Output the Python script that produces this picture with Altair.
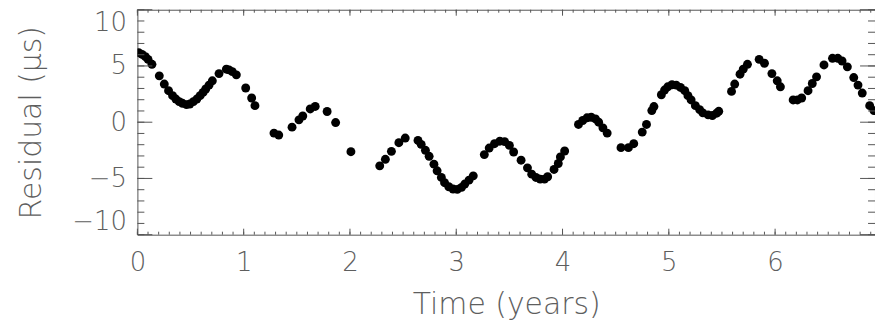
import altair as alt
import pandas as pd

# Observed residuals (time in years, residual in microseconds)
time_years = [
    0.012, 0.044, 0.075, 0.100, 0.137, 0.206, 0.253, 0.293, 0.331, 0.362,
    0.393, 0.424, 0.462, 0.493, 0.527, 0.559, 0.590, 0.618, 0.643, 0.674,
    0.705, 0.768, 0.837, 0.862, 0.893, 0.931, 1.019, 1.075, 1.106,
    1.285, 1.330, 1.455, 1.520, 1.556, 1.626, 1.673, 1.785, 1.865, 2.009,
    2.280, 2.333, 2.390, 2.460, 2.520, 2.640, 2.670, 2.710, 2.745, 2.790,
    2.820, 2.860, 2.890, 2.930, 2.970, 3.010, 3.050, 3.080, 3.120, 3.160,
    3.264, 3.310, 3.360, 3.410, 3.455, 3.500, 3.540, 3.610, 3.670, 3.710,
    3.750, 3.790, 3.830, 3.860, 3.920, 3.960, 3.980, 4.020,
    4.150, 4.190, 4.230, 4.270, 4.310, 4.340, 4.380, 4.420,
    4.550, 4.620, 4.670, 4.750, 4.790, 4.840, 4.860, 4.930, 4.960, 4.990,
    5.030, 5.070, 5.110, 5.150, 5.180, 5.210, 5.250, 5.290, 5.320, 5.370,
    5.410, 5.450, 5.470,
    5.590, 5.620, 5.670, 5.700, 5.740, 5.850, 5.900, 5.970, 6.020, 6.050,
    6.170, 6.210, 6.250, 6.310, 6.350, 6.390, 6.460, 6.540, 6.590, 6.630,
    6.680, 6.740, 6.780, 6.820, 6.890, 6.930,
]
residual_us = [
    6.18, 6.03, 5.83, 5.59, 5.15, 4.12, 3.39, 2.80, 2.36, 2.06,
    1.83, 1.68, 1.56, 1.62, 1.83, 2.06, 2.36, 2.65, 2.95, 3.30,
    3.68, 4.32, 4.71, 4.65, 4.50, 4.21, 3.04, 2.15, 1.47,
    -0.97, -1.14, -0.44, 0.21, 0.55, 1.18, 1.40, 0.95, -0.03, -2.62,
    -3.88, -3.30, -2.59, -1.82, -1.41, -1.62, -1.97, -2.50, -3.03, -3.73,
    -4.32, -4.91, -5.38, -5.74, -5.94, -5.97, -5.79, -5.50, -5.15, -4.77,
    -2.88, -2.30, -1.91, -1.69, -1.73, -2.06, -2.65, -3.38, -4.06, -4.62,
    -4.91, -5.06, -5.06, -4.85, -4.20, -3.67, -3.09, -2.56,
    -0.20, 0.15, 0.39, 0.44, 0.30, 0.00, -0.50, -0.97,
    -2.26, -2.26, -1.91, -0.88, -0.20, 1.03, 1.39, 2.44, 2.86, 3.15,
    3.33, 3.30, 3.09, 2.80, 2.36, 1.98, 1.47, 1.12, 0.83, 0.65,
    0.59, 0.80, 0.97,
    2.74, 3.39, 4.27, 4.71, 5.15, 5.59, 5.24, 4.32, 3.68, 3.15,
    1.98, 1.98, 2.15, 2.80, 3.44, 4.03, 5.09, 5.68, 5.68, 5.44,
    4.92, 3.97, 3.30, 2.59, 1.47, 1.03,
]

x_major = [0, 1, 2, 3, 4, 5, 6]
x_minor = [i / 10 for i in range(70)]
y_major = [-10, -5, 0, 5, 10]
y_minor = list(range(-10, 11))

X_TITLE = "Time (years)"
Y_TITLE = "Residual (\u03bcs)"
X_DOMAIN = [0, 6.94]
Y_DOMAIN = [-10, 10]
W, H = 741, 226
FONT = "DejaVu Sans"
GREY = "#5e5e5e"
AXC = "#555555"

pts = pd.DataFrame({"t": time_years, "r": residual_us})
xs = alt.Scale(domain=X_DOMAIN, nice=False, zero=False)
ys = alt.Scale(domain=Y_DOMAIN, nice=False, zero=False)

xaxis = alt.Axis(values=x_major, format="d", ticks=False, domain=False, grid=False,
                 labelFlush=False, labelPadding=15, titlePadding=14)
yaxis = alt.Axis(values=y_major, format="d", ticks=False, domain=False, grid=False,
                 labelFlush=True, labelPadding=11, titlePadding=25)

points = alt.Chart(pts).mark_circle(size=80, color="black", opacity=1, clip=True).encode(
    x=alt.X("t:Q", scale=xs, axis=xaxis, title=X_TITLE),
    y=alt.Y("r:Q", scale=ys, axis=yaxis, title=Y_TITLE),
)

xmaj = pd.DataFrame({"v": x_major})
xmin = pd.DataFrame({"v": x_minor})
ymaj = pd.DataFrame({"v": y_major})
ymin = pd.DataFrame({"v": y_minor})


def xticks(df, length):
    enc_x = alt.X("v:Q", scale=xs, axis=xaxis, title=X_TITLE)
    bot = alt.Chart(df).mark_rule(color=AXC, strokeWidth=1).encode(
        x=enc_x, y=alt.value(H), y2=alt.value(H - length))
    top = alt.Chart(df).mark_rule(color=AXC, strokeWidth=1).encode(
        x=enc_x, y=alt.value(0), y2=alt.value(length))
    return [bot, top]


def yticks(df, length):
    enc_y = alt.Y("v:Q", scale=ys, axis=yaxis, title=Y_TITLE)
    left = alt.Chart(df).mark_rule(color=AXC, strokeWidth=1).encode(
        y=enc_y, x=alt.value(0), x2=alt.value(length))
    right = alt.Chart(df).mark_rule(color=AXC, strokeWidth=1).encode(
        y=enc_y, x=alt.value(W - length), x2=alt.value(W))
    return [left, right]


layers = [points] + xticks(xmin, 3) + xticks(xmaj, 6) + yticks(ymin, 7) + yticks(ymaj, 15)

chart = alt.layer(*layers).properties(
    width=W, height=H,
    autosize=alt.AutoSizeParams(type="none"),
    padding={"left": 130, "top": 1, "right": 0, "bottom": 90},
).configure_view(
    stroke=AXC, strokeWidth=1
).configure_axis(
    labelFont=FONT, titleFont=FONT, labelFontSize=26, titleFontSize=30,
    labelFontWeight=200, titleFontWeight=200,
    labelColor=GREY, titleColor=GREY,
)

chart.save("out.html", embed_options={"renderer": "svg", "actions": False})
